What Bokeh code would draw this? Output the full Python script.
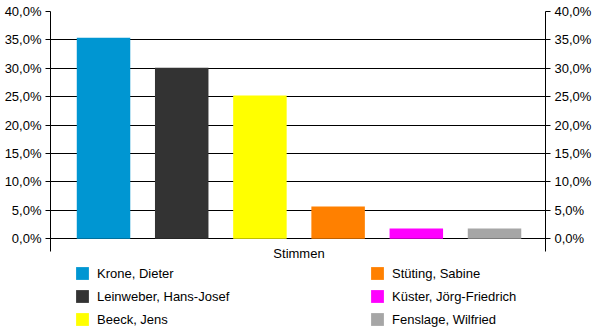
from bokeh.plotting import figure
from bokeh.models import Range1d, LinearAxis, FixedTicker, Legend, LegendItem, ColumnDataSource
from bokeh.embed import file_html
from bokeh.resources import INLINE

# ---- data ----
candidates = ["Krone, Dieter", "Leinweber, Hans-Josef", "Beeck, Jens",
              "Stüting, Sabine", "Küster, Jörg-Friedrich", "Fenslage, Wilfried"]
shares = [35.4, 30.1, 25.2, 5.7, 1.8, 1.8]
colors = ["#0096D2", "#333333", "#FFFF00", "#FF8000", "#FF00FF", "#A6A6A6"]
y_ticks = [0, 5, 10, 15, 20, 25, 30, 35, 40]
y_tick_labels = ["0,0%", "5,0%", "10,0%", "15,0%", "20,0%", "25,0%", "30,0%", "35,0%", "40,0%"]
series_name = "Stimmen"

FONT = "Liberation Sans"
FS = "13px"
AXIS_BOTTOM = -2.24   # where the value axes end, below the 0 line

src = ColumnDataSource(dict(x=list(range(len(candidates))), top=shares,
                            color=colors, name=candidates))

p = figure(width=600, height=333,
           x_range=Range1d(-0.678, 5.652), y_range=Range1d(-16.665, 40),
           toolbar_location=None, output_backend="svg",
           min_border_left=50, min_border_right=55, min_border_top=11, min_border_bottom=0)
p.outline_line_color = None
p.background_fill_color = "white"
p.border_fill_color = "white"

r = p.vbar(x="x", top="top", width=0.684, bottom=0, source=src,
           fill_color="color", line_color=None)

p.xgrid.visible = False
p.ygrid.ticker = FixedTicker(ticks=y_ticks)
p.ygrid.grid_line_color = "black"
p.ygrid.grid_line_width = 1

overrides = {t: l for t, l in zip(y_ticks, y_tick_labels)}

def style_y(ax):
    ax.ticker = FixedTicker(ticks=y_ticks)
    ax.major_label_overrides = overrides
    ax.bounds = (AXIS_BOTTOM, 40)
    ax.axis_line_color = "black"
    ax.major_tick_line_color = "black"
    ax.major_tick_out = 5
    ax.major_tick_in = 0
    ax.minor_tick_line_color = None
    ax.major_label_standoff = 4
    ax.major_label_text_font = FONT
    ax.major_label_text_font_size = FS
    ax.major_label_text_color = "black"

style_y(p.yaxis[0])
right = LinearAxis()
style_y(right)
p.add_layout(right, "right")

xa = p.xaxis[0]
xa.fixed_location = AXIS_BOTTOM
xa.ticker = FixedTicker(ticks=[2.5])
xa.major_label_overrides = {2.5: series_name}
xa.axis_line_color = None
xa.major_tick_line_color = None
xa.minor_tick_line_color = None
xa.major_tick_out = 0
xa.major_tick_in = 0
xa.major_label_standoff = -6
xa.major_label_text_font = FONT
xa.major_label_text_font_size = FS
xa.major_label_text_color = "black"

def make_legend(idxs, loc):
    items = [LegendItem(label=candidates[i], renderers=[r], index=i) for i in idxs]
    return Legend(items=items, location=loc, orientation="vertical",
                  glyph_width=16, glyph_height=16, label_height=16, label_width=10,
                  spacing=7, padding=0, margin=0, label_standoff=7,
                  border_line_color=None, background_fill_alpha=0,
                  label_text_font=FONT, label_text_font_size=FS, label_text_color="black")

p.add_layout(make_legend([0, 1, 2], (24, 6)), "center")
p.add_layout(make_legend([3, 4, 5], (319, 6)), "center")

open("out.html", "w").write(file_html(p, INLINE))
